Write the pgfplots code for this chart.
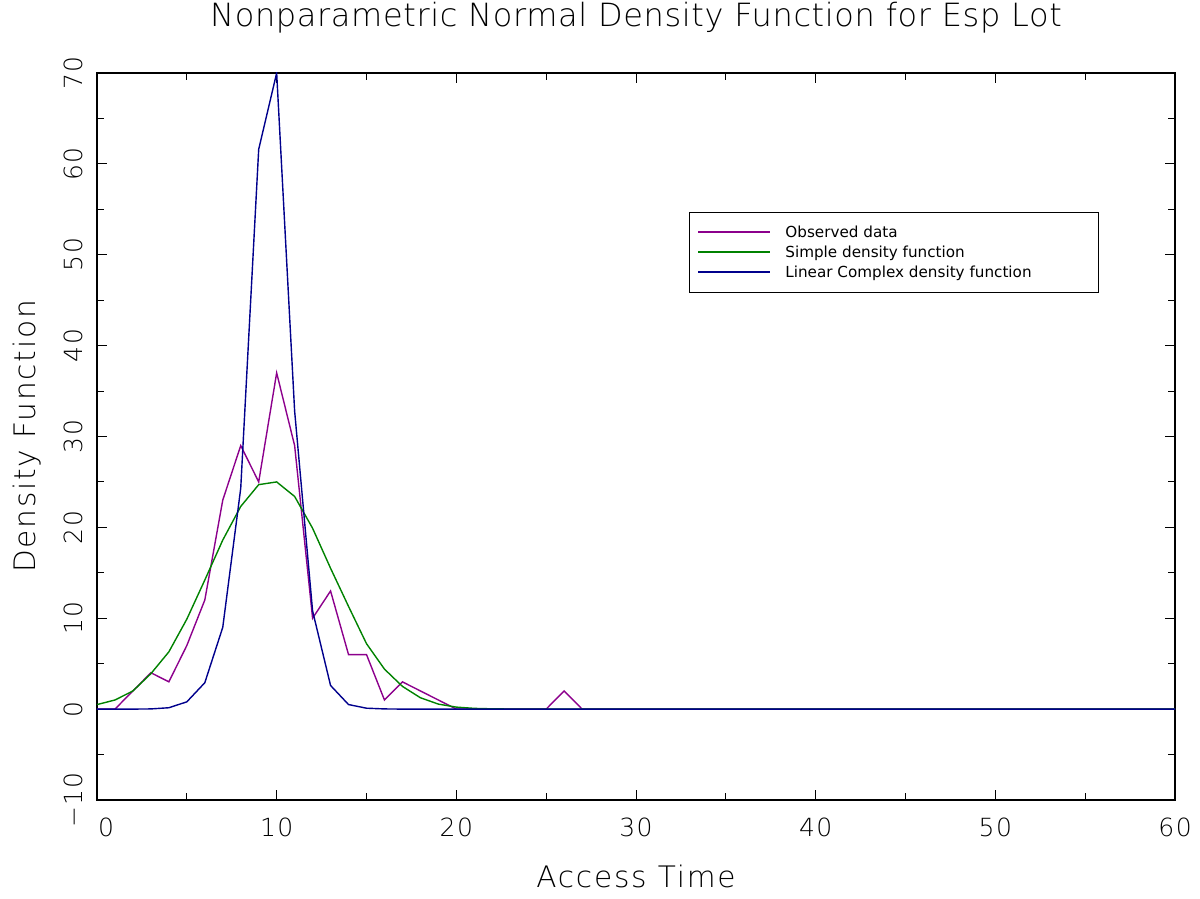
\documentclass[border=0pt]{standalone}
\usepackage{fontspec}
\setmainfont{DejaVu Sans ExtraLight}
\newfontfamily\wide{DejaVu Sans ExtraLight}[LetterSpace=6]
\newfontfamily\titlefont{DejaVu Sans ExtraLight}[LetterSpace=2]
\newfontfamily\legfont{DejaVu Sans}
\usepackage{pgfplots}
\pgfplotsset{compat=1.18}
\usetikzlibrary{calc}
\definecolor{obs}{RGB}{140,0,140}
\definecolor{simp}{RGB}{0,130,0}
\definecolor{lin}{RGB}{0,0,140}
\begin{document}
\begin{tikzpicture}
\begin{axis}[name=ax, scale only axis, width=539pt, height=363.5pt,
  xmin=0, xmax=60, ymin=-10, ymax=70,
  xtick={0,10,20,30,40,50,60},
  xticklabels={\hspace{9pt}0,10,20,30,40,50,60},
  ytick={-10,0,10,20,30,40,50,60,70},
  yticklabels={−10,0,10,20,30,40,50,60,70},
  minor x tick num=1, minor y tick num=1,
  major tick length=5pt, minor tick length=3.5pt,
  axis line style={line width=1.2pt},
  every tick/.style={black, line width=0.5pt},
  tick label style={font=\wide\fontsize{12.5}{15}\selectfont, inner sep=0pt},
  xticklabel style={anchor=north}, xticklabel shift=9pt,
  yticklabel style={rotate=90, anchor=south}, yticklabel shift=7pt,
  every axis title shift=0pt,
  title={Nonparametric Normal Density Function for Esp Lot},
  title style={at={(axis description cs:0.5,1.0633)}, anchor=base, inner sep=0pt, font=\titlefont\fontsize{16}{19}\selectfont},
  xlabel={Access Time},
  xlabel style={at={(axis description cs:0.5,-0.121)}, anchor=base, inner sep=0pt, font=\wide\fontsize{14.8}{18}\selectfont},
  ylabel={Density Function},
  ylabel style={at={(axis description cs:-0.0575,0.5)}, anchor=base, inner sep=0pt, font=\wide\fontsize{14.8}{18}\selectfont},
]
\addplot[obs, line width=0.7pt] coordinates {
(0,0) (1,0) (2,2) (3,4) (4,3) (5,7) (6,12) (7,23) (8,29) (9,25) (10,37) (11,29)
(12,10) (13,13) (14,6) (15,6) (16,1) (17,3) (18,2) (19,1) (20,0) (21,0) (22,0)
(23,0) (24,0) (25,0) (26,2) (27,0) (28,0) (29,0) (30,0) (40,0) (50,0) (60,0)};
\addplot[simp, line width=0.7pt] coordinates {
(0,0.5) (1,1.0) (2,2.0) (3,3.9) (4,6.3) (5,9.9) (6,14.2) (7,18.6) (8,22.3) (9,24.7)
(10,25.0) (11,23.4) (12,19.9) (13,15.5) (14,11.3) (15,7.2) (16,4.4) (17,2.5)
(18,1.25) (19,0.55) (20,0.22) (21,0.08) (22,0.03) (23,0.01) (24,0) (25,0) (30,0)
(40,0) (50,0) (60,0)};
\addplot[lin, line width=0.7pt] coordinates {
(0,0) (1,0) (2,0) (3,0.02) (4,0.15) (5,0.8) (6,2.9) (7,9) (8,24.3) (9,61.6)
(10,70) (11,32.8) (12,10.8) (13,2.6) (14,0.5) (15,0.1) (16,0.02) (17,0) (18,0)
(20,0) (30,0) (40,0) (50,0) (60,0)};
\end{axis}
% legend
\coordinate (L) at ($(ax.north west)+(296pt,-69.5pt)$);
\draw[black, line width=0.4pt] (L) rectangle ++(204.5pt,-40pt);
\foreach \c/\t [count=\i] in {obs/Observed data, simp/Simple density function, lin/Linear Complex density function} {
  \draw[\c, line width=0.7pt] ($(L)+(4.5pt,-\i*10pt)$) -- ++(36pt,0pt);
  \node[anchor=base west, inner sep=0pt, font=\legfont\fontsize{7.6}{9}\selectfont] at ($(L)+(48pt,-\i*10pt-2.85pt)$) {\t};
}
\pgfresetboundingbox
\path ($(ax.south west)+(-48.5pt,-49.5pt)$) rectangle ($(ax.north east)+(12.5pt,36.5pt)$);
\end{tikzpicture}
\end{document}
